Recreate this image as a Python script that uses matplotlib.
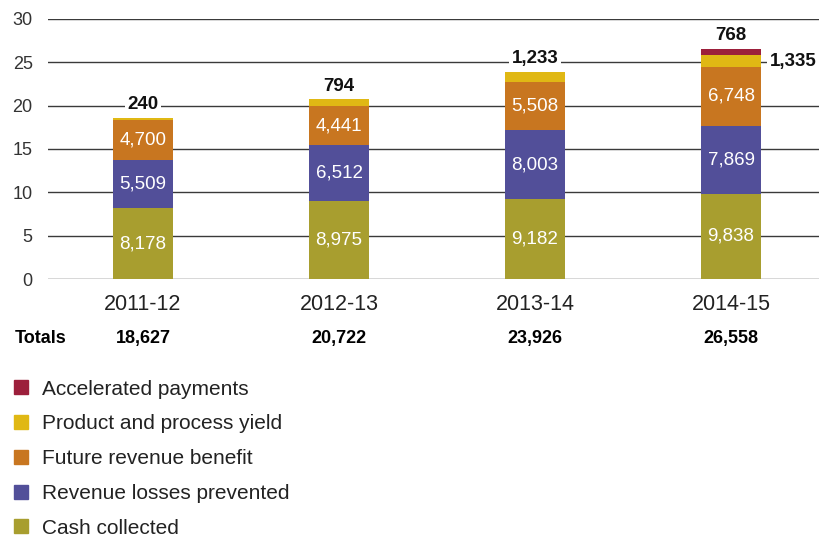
import matplotlib
matplotlib.use("Agg")
import matplotlib.pyplot as plt
import matplotlib.transforms as mtransforms
from matplotlib.lines import Line2D
import numpy as np

plt.rcParams['font.family'] = ['Liberation Sans', 'DejaVu Sans']

# Data (values in £ millions, plotted in £ billions)
years = ["2011-12", "2012-13", "2013-14", "2014-15"]
cash_collected = [8178, 8975, 9182, 9838]
revenue_losses = [5509, 6512, 8003, 7869]
future_revenue = [4700, 4441, 5508, 6748]
product_yield = [240, 794, 1233, 1335]
accelerated = [0, 0, 0, 768]
totals = ["18,627", "20,722", "23,926", "26,558"]

series = [
    ("Cash collected", cash_collected, "#a89e2f"),
    ("Revenue losses prevented", revenue_losses, "#524f99"),
    ("Future revenue benefit", future_revenue, "#c87620"),
    ("Product and process yield", product_yield, "#e0b814"),
    ("Accelerated payments", accelerated, "#9c1f3b"),
]

fig = plt.figure(figsize=(8.2, 5.38), dpi=100)
ax = fig.add_axes([0.0585, 0.4814, 0.9415, 0.4833])

x = np.arange(len(years))
width = 0.31
bottom = np.zeros(len(years))
for name, vals, color in series:
    v = np.array(vals) / 1000.0
    ax.bar(x, v, width, bottom=bottom, color=color, zorder=3)
    # white labels inside the three big segments
    if name in ("Cash collected", "Revenue losses prevented", "Future revenue benefit"):
        for i in range(len(years)):
            ax.text(x[i], bottom[i] + v[i] / 2, f"{vals[i]:,}", color="white",
                    ha="center", va="center", fontsize=13.5, zorder=4)
    bottom += v

lbl = dict(fontsize=13.5, fontweight="bold", zorder=5, color="#111111",
           bbox=dict(facecolor="white", edgecolor="none", pad=2))

# labels above bars for small segments
for i in range(len(years)):
    top_val = accelerated[i] if accelerated[i] else product_yield[i]
    ax.annotate(f"{top_val:,}", (x[i], bottom[i]), xytext=(0, 3.5),
                textcoords="offset points", ha="center", va="bottom", **lbl)
    if accelerated[i]:
        ymid = (cash_collected[i] + revenue_losses[i] + future_revenue[i]
                + product_yield[i] / 2) / 1000.0
        ax.annotate(f"{product_yield[i]:,}", (x[i] + width / 2, ymid), xytext=(6, 0),
                    textcoords="offset points", ha="left", va="center",
                    annotation_clip=False, **lbl)

ax.set_ylim(0, 30)
ax.set_xlim(-0.485, 3.454)
ax.set_yticks(range(0, 31, 5))
ax.yaxis.grid(True, color="#3a3a3a", linewidth=1, zorder=0)
ax.set_axisbelow(True)
for s in ax.spines.values():
    s.set_visible(False)
ax.tick_params(axis="both", length=0)
ax.tick_params(axis="y", labelsize=13, labelcolor="#333333", pad=11)
ax.set_xticks(x)
ax.set_xticklabels(years, fontsize=15.5, color="#222222")
ax.tick_params(axis="x", pad=11)

# totals row
trans = mtransforms.blended_transform_factory(ax.transData, ax.transAxes)
ax.text(-0.655, -0.227, "Totals", transform=trans, ha="left", va="center",
        fontsize=13, fontweight="bold", clip_on=False)
for i, t in enumerate(totals):
    ax.text(x[i], -0.227, t, transform=trans, ha="center", va="center",
            fontsize=13, fontweight="bold", clip_on=False)

# legend
handles = [Line2D([], [], marker="s", linestyle="none", markersize=9.5, color=c)
           for _, _, c in reversed(series)]
labels = [n for n, _, _ in reversed(series)]
fig.legend(handles, labels, loc="upper left", bbox_to_anchor=(-0.008, 0.329),
           frameon=False, fontsize=15, labelspacing=0.755, handletextpad=0.62,
           handlelength=0.8, labelcolor="#222222")

fig.savefig("out.png", dpi=100)
